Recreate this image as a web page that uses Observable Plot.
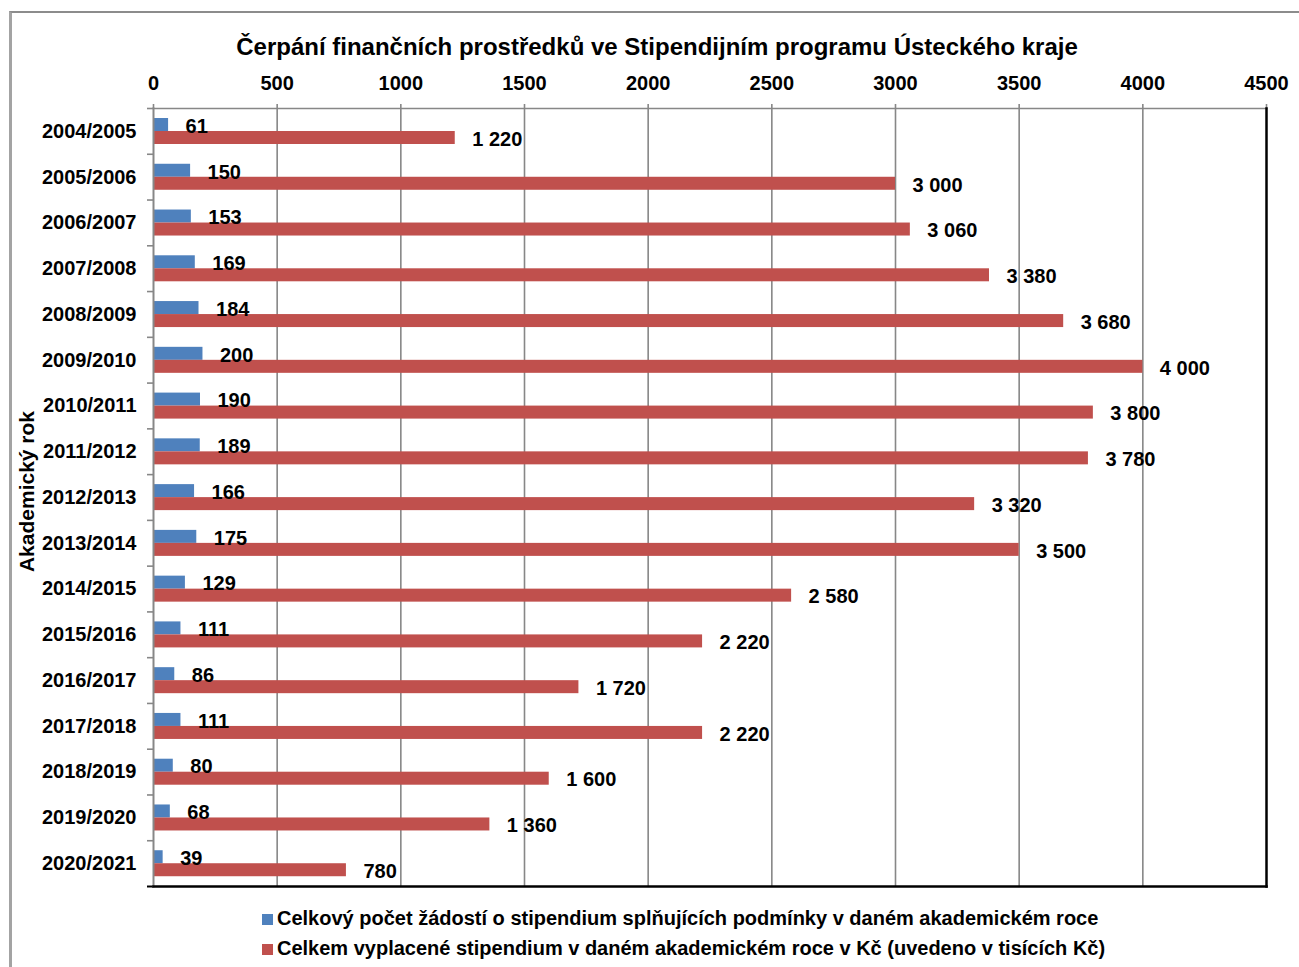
<!DOCTYPE html>
<html><head><meta charset="utf-8">
<script src="https://cdn.jsdelivr.net/npm/d3@7"></script>
<script src="https://cdn.jsdelivr.net/npm/@observablehq/plot@0.6"></script>
<style>
body{margin:0;background:#fff;}
#wrap{position:relative;width:1299px;height:967px;overflow:hidden;font-family:"Liberation Sans",Arial,sans-serif;font-weight:bold;color:#000;}
#border{position:absolute;left:9px;top:11px;width:1400px;height:1000px;border-left:3px solid #a3a3a3;border-top:2px solid #8c8c8c;}
#title{position:absolute;top:33px;left:657px;transform:translateX(-50%);white-space:nowrap;font-size:24px;line-height:28px;}
#chart{position:absolute;left:0;top:0;}
#legend{position:absolute;left:262px;top:903px;font-size:20px;line-height:30px;white-space:nowrap;}
#legend .sw{display:inline-block;width:11px;height:11px;margin-right:4px;vertical-align:0px;}
</style>
</head><body>
<div id="wrap">
  <div id="border"></div>
  <div id="chart"></div>
  <div id="title">Čerpání finančních prostředků ve Stipendijním programu Ústeckého kraje</div>
  <div id="legend"></div>
</div>
<script>
const years = ["2004/2005","2005/2006","2006/2007","2007/2008","2008/2009","2009/2010","2010/2011","2011/2012","2012/2013","2013/2014","2014/2015","2015/2016","2016/2017","2017/2018","2018/2019","2019/2020","2020/2021"];
const applications = [61,150,153,169,184,200,190,189,166,175,129,111,86,111,80,68,39];
const payouts = [1220,3000,3060,3380,3680,4000,3800,3780,3320,3500,2580,2220,1720,2220,1600,1360,780];
const xTicks = [0,500,1000,1500,2000,2500,3000,3500,4000,4500];
const seriesNames = ["Celkový počet žádostí o stipendium splňujících podmínky v daném akademickém roce","Celkem vyplacené stipendium v daném akademickém roce v Kč (uvedeno v tisících Kč)"];
const seriesColors = ["#4f81bd","#c0504d"];

const rows = years.map((y,i)=>({year:y, count:applications[i], amount:payouts[i]}));
const fmt = d3.formatLocale({decimal:",", thousands:" ", grouping:[3], currency:["",""]}).format(",");

const W=1299, H=967, mT=108, mB=81, mL=153, mR=33;
const bw = (H-mT-mB)/years.length;

const chart = Plot.plot({
  width:W, height:H,
  marginTop:mT, marginBottom:mB, marginLeft:mL, marginRight:mR,
  style:{fontFamily:'"Liberation Sans", Arial, sans-serif', fontWeight:"bold", fontSize:"20px", color:"#000", background:"transparent"},
  x:{domain:[0,4500]},
  y:{domain:years, padding:0, round:false, label:null},
  marks:[
    Plot.gridX(xTicks.slice(1,-1), {stroke:"#878787", strokeOpacity:1, strokeWidth:1.6}),
    Plot.barX(rows, {y:"year", x:"count", fill:seriesColors[0], insetTop:10, insetBottom:bw-23}),
    Plot.barX(rows, {y:"year", x:"amount", fill:seriesColors[1], insetTop:23, insetBottom:bw-36}),
    Plot.text(rows, {y:"year", x:"count", text:d=>fmt(d.count), textAnchor:"start", dx:17, dy:-5, fontSize:20, fontWeight:"bold", fill:"#000"}),
    Plot.text(rows, {y:"year", x:"amount", text:d=>fmt(d.amount), textAnchor:"start", dx:17, dy:8, fontSize:20, fontWeight:"bold", fill:"#000"}),
    Plot.axisX(xTicks, {anchor:"top", tickSize:5, tickPadding:14, tickFormat:d=>String(d), stroke:"#878787", strokeWidth:1.6, fontSize:20, fontWeight:"bold", fill:"#000", label:null}),
    Plot.axisY({anchor:"left", tickSize:0, tickPadding:17, fontSize:20, fontWeight:"bold", fill:"#000", label:null}),
    Plot.axisY({anchor:"left", tickSize:6, text:null, dy:-bw/2, stroke:"#878787", strokeWidth:1.6, label:null}),
    Plot.axisY(years.slice(-1), {anchor:"left", tickSize:6, text:null, dy:bw/2, stroke:"#000", strokeWidth:2, label:null}),
    Plot.frame({anchor:"top", stroke:"#878787", strokeWidth:1.6}),
    Plot.frame({anchor:"left", stroke:"#878787", strokeWidth:2}),
    Plot.frame({anchor:"right", stroke:"#000", strokeWidth:2.5}),
    Plot.frame({anchor:"bottom", stroke:"#000", strokeWidth:2.5}),
    Plot.text(["Akademický rok"], {frameAnchor:"left", textAnchor:"middle", dx:-126, dy:-6, rotate:-90, fontSize:21, fontWeight:"bold", fill:"#000"})
  ]
});
document.getElementById("chart").appendChild(chart);

const leg = document.getElementById("legend");
seriesNames.forEach((n,i)=>{
  const d = document.createElement("div");
  d.innerHTML = `<span class="sw" style="background:${seriesColors[i]}"></span>${n}`;
  leg.appendChild(d);
});
</script>
</body></html>
